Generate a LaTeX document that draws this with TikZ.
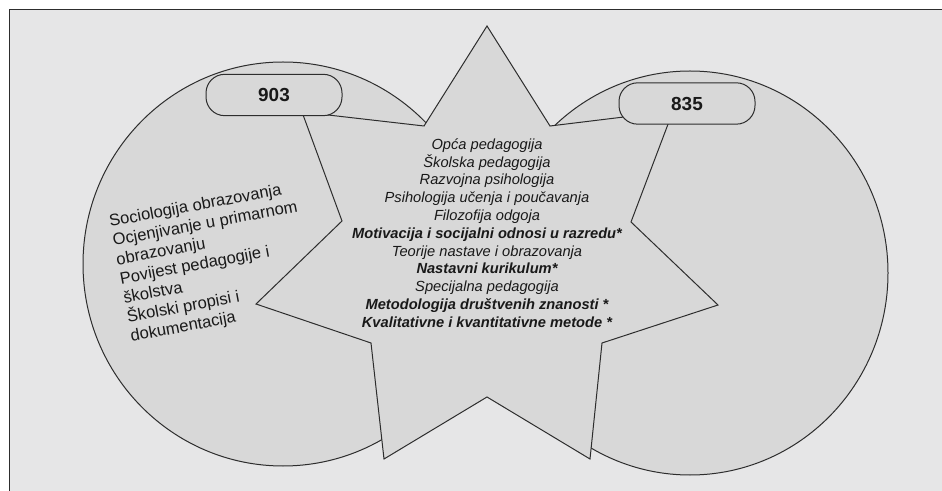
\documentclass[tikz,border=0pt]{standalone}
\usepackage{fontspec}
\setsansfont{Liberation Sans}
\usepackage{tikz}
\usetikzlibrary{positioning}
\definecolor{vennback}{RGB}{230, 230, 231}
\definecolor{vennfill}{RGB}{216, 216, 216}
\definecolor{vennline}{RGB}{45, 45, 45}
\definecolor{venntext}{RGB}{25, 25, 25}
\tikzset{
    blob/.style={draw=vennline, fill=vennfill, line width=0.75pt},
    tagbox/.style={rectangle, draw=vennline, fill=vennfill, rounded corners=14pt, line width=0.75pt, minimum width=102pt, minimum height=31pt, font=\sffamily\bfseries\fontsize{14.2}{16}\selectfont, text=venntext},
    core/.style={align=center, inner sep=0pt, font=\sffamily\itshape\fontsize{11}{13.35}\selectfont, text=venntext},
    side/.style={align=left, inner sep=0pt, font=\sffamily\fontsize{12.4}{14.6}\selectfont, text=venntext}
}

\begin{document}
\begin{tikzpicture}[x=0.75pt, y=-0.75pt]
    \useasboundingbox (0,0) rectangle (942,491);
    % frame
    \fill[white] (0,0) rectangle (942,491);
    \fill[vennback] (9,10) rectangle (942,491);
    \draw[vennline, line width=0.75pt] (9,491) -- (9,10) -- (942,10);

    % the two sets and the star between them
    \draw[blob] (283,264) ellipse [x radius=200, y radius=202];
    \draw[blob] (690,273) ellipse [x radius=198, y radius=202];
    \draw[blob] (487,26) -- (550,126) -- (673,111) -- (631,222) -- (718,305) -- (602,343) -- (590,459)
        -- (487,397) -- (384,459) -- (371,343) -- (256,304) -- (342,221) -- (302,112) -- (424,126) -- cycle;

    % counts
    \node[tagbox] (tag903) at (274,95) {903};
    \node[tagbox] (tag835) at (687,103.5) {835};

    % Labels
    \node[side, rotate=10.5, anchor=west] (only903) at (120,280) {Sociologija obrazovanja\\ Ocjenjivanje u primarnom\\ obrazovanju\\ Povijest pedagogije i\\ školstva\\ Školski propisi i\\ dokumentacija};
    \node[core] (common) at (487,233) {Opća pedagogija\\ Školska pedagogija\\ Razvojna psihologija\\ Psihologija učenja i poučavanja\\ Filozofija odgoja\\ \textbf{Motivacija i socijalni odnosi u razredu*}\\ Teorije nastave i obrazovanja\\ \textbf{Nastavni kurikulum*}\\ Specijalna pedagogija\\ \textbf{Metodologija društvenih znanosti *}\\ \textbf{Kvalitativne i kvantitativne metode *}};
\end{tikzpicture}
\end{document}
